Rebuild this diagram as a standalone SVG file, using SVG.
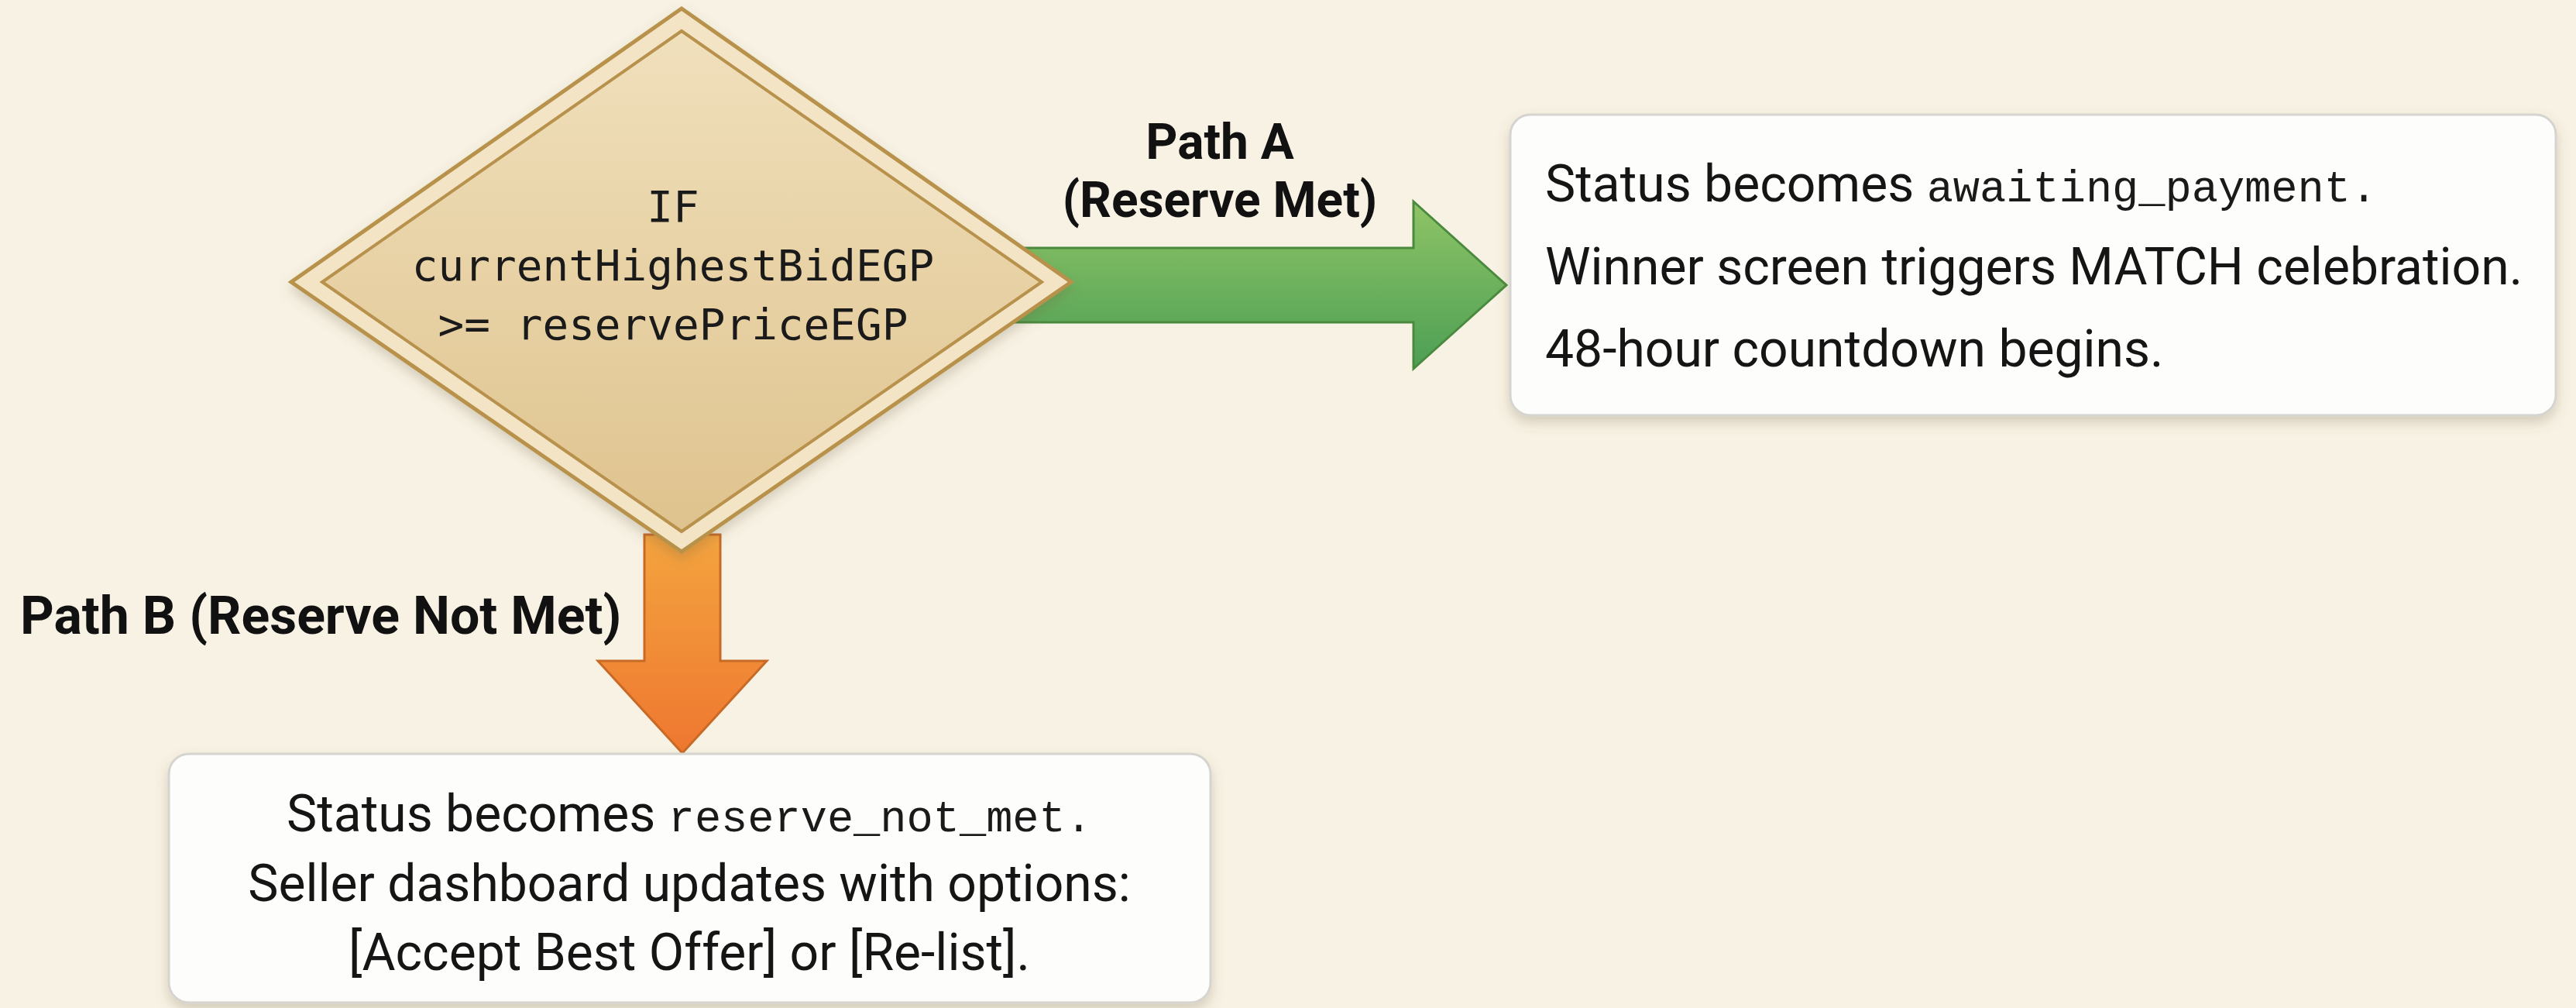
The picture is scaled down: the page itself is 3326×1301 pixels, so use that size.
<svg xmlns="http://www.w3.org/2000/svg" width="3326" height="1301" viewBox="0 0 3326 1301">
<defs>
<style>
.mono{font-family:"Liberation Mono","DejaVu Sans Mono",monospace;font-size:57px;fill:#1a1a1a}
.dmono{font-family:"DejaVu Sans Mono","Liberation Mono",monospace;font-size:56px;fill:#1a1a1a}
.body{font-family:Roboto,"Liberation Sans",sans-serif;font-size:66px;fill:#151515}
.lbl{font-family:Roboto,"Liberation Sans",sans-serif;font-weight:bold;fill:#111}
.box{fill:#fdfdfb;stroke:#d6d4cf;stroke-width:3}
.dline{fill:none;stroke:#b8924c;stroke-width:4;stroke-linejoin:miter}
</style>
<linearGradient id="gDia" x1="0" y1="0" x2="0" y2="1">
<stop offset="0" stop-color="#f0e0bc"/>
<stop offset="1" stop-color="#dfc38e"/>
</linearGradient>
<linearGradient id="gGreen" x1="0" y1="0" x2="0" y2="1">
<stop offset="0" stop-color="#8fc466"/>
<stop offset="1" stop-color="#4c9f55"/>
</linearGradient>
<linearGradient id="gOrange" x1="0" y1="0" x2="0" y2="1">
<stop offset="0" stop-color="#f4a43f"/>
<stop offset="1" stop-color="#ee7730"/>
</linearGradient>
<filter id="sh" x="-10%" y="-10%" width="120%" height="130%">
<feDropShadow dx="0" dy="8" stdDeviation="8" flood-color="#6b5a3a" flood-opacity="0.25"/>
</filter>
</defs>
<rect width="3326" height="1301" fill="#f8f2e4"/>

<g id="connectors">
<polygon points="1300,320 1825,320 1825,260 1945,368 1825,476 1825,416 1300,416" fill="url(#gGreen)" stroke="#4a8a3e" stroke-width="3" stroke-linejoin="miter"/>
<polygon points="832,690 832,853 772,853 881,972 990,853 930,853 930,690" fill="url(#gOrange)" stroke="#c86a26" stroke-width="3" stroke-linejoin="miter"/>
<text class="lbl" font-size="64" x="1575" y="205" text-anchor="middle">Path A</text>
<text class="lbl" font-size="64" x="1575" y="280" text-anchor="middle">(Reserve Met)</text>
<text class="lbl" font-size="68" x="26" y="818">Path B (Reserve Not Met)</text>
</g>

<g id="decision">
<polygon points="880,11 1383,364 880,712 376,364" class="dline" style="fill:#f2e4c4;stroke-width:5" filter="url(#sh)"/>
<polygon points="880,40 1345,364 880,686 416,364" class="dline" style="fill:url(#gDia)"/>
<text class="dmono" x="869" y="286" text-anchor="middle">IF</text>
<text class="dmono" x="869" y="362" text-anchor="middle">currentHighestBidEGP</text>
<text class="dmono" x="869" y="438" text-anchor="middle">&gt;= reservePriceEGP</text>
</g>

<g id="reserve-met">
<rect class="box" x="1950" y="148" width="1350" height="388" rx="26" filter="url(#sh)"/>
<text class="body" x="1995" y="260">Status becomes <tspan class="mono">awaiting_payment.</tspan></text>
<text class="body" x="1995" y="367">Winner screen triggers MATCH celebration.</text>
<text class="body" x="1995" y="473">48-hour countdown begins.</text>
</g>

<g id="reserve-not-met">
<rect class="box" x="218" y="973" width="1345" height="321" rx="26" filter="url(#sh)"/>
<text class="body" x="890" y="1073" text-anchor="middle">Status becomes <tspan class="mono">reserve_not_met.</tspan></text>
<text class="body" x="890" y="1163" text-anchor="middle">Seller dashboard updates with options:</text>
<text class="body" x="890" y="1252" text-anchor="middle">[Accept Best Offer] or [Re-list].</text>
</g>
</svg>
